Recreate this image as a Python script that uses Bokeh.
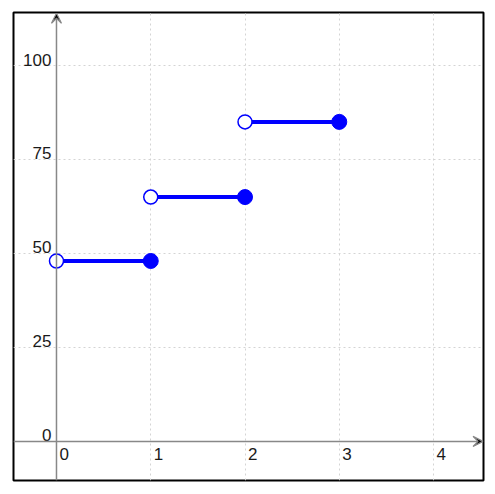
from bokeh.plotting import figure
from bokeh.models import Range1d, FixedTicker, Arrow, VeeHead, ColumnDataSource
from bokeh.core.properties import value
from bokeh.embed import file_html
from bokeh.resources import INLINE

# data
seg_x0 = [0, 1, 2]
seg_x1 = [1, 2, 3]
seg_y = [48, 65, 85]
x_ticks = [0, 1, 2, 3, 4]
x_tick_labels = ["0", "1", "2", "3", "4"]
y_ticks = [0, 25, 50, 75, 100]
y_tick_labels = ["0", "25", "50", "75", "100"]

x_lo, x_hi = -0.456, 4.53
y_lo, y_hi = -10.4, 114.1

p = figure(width=488, height=486, output_backend="svg", toolbar_location=None,
           x_range=Range1d(x_lo, x_hi), y_range=Range1d(y_lo, y_hi),
           min_border_left=13, min_border_right=5, min_border_top=12, min_border_bottom=6)
p.xaxis.visible = False
p.yaxis.visible = False
p.outline_line_color = "black"
p.outline_line_width = 2
p.xgrid.ticker = FixedTicker(ticks=[t for t in x_ticks if t != 0])
p.ygrid.ticker = FixedTicker(ticks=[t for t in y_ticks if t != 0])
for g in (p.xgrid, p.ygrid):
    g.grid_line_color = "#d4d4d4"
    g.grid_line_dash = "2 3"
    g.grid_line_width = 1

# axes with arrows
p.add_layout(Arrow(end=VeeHead(size=10, line_color="#888888", line_width=1.2),
                   x_start=x_lo, y_start=0, x_end=x_hi - 0.005, y_end=0,
                   line_color="#888888", line_width=1.5))
p.add_layout(Arrow(end=VeeHead(size=10, line_color="#888888", line_width=1.2),
                   x_start=0, y_start=y_lo, x_end=0, y_end=y_hi - 0.2,
                   line_color="#888888", line_width=1.5))

# tick labels
p.text(x=x_ticks, y=[0] * len(x_ticks), text=x_tick_labels,
       text_font=value("Liberation Sans"), text_font_size="17px", text_color="#1a1a1a",
       text_align="left", text_baseline="top", x_offset=3, y_offset=7)
p.text(x=[0] * len(y_ticks), y=y_ticks, text=y_tick_labels,
       text_font=value("Liberation Sans"), text_font_size="17px", text_color="#1a1a1a",
       text_align="right", text_baseline="bottom", x_offset=-5, y_offset=0)

# step segments
src = ColumnDataSource(dict(x0=seg_x0, x1=seg_x1, y=seg_y))
p.segment(x0="x0", y0="y", x1="x1", y1="y", source=src, line_color="#0000ff", line_width=4)
p.scatter(x="x1", y="y", source=src, size=15, fill_color="#0000ff", line_color="#0000ff")
p.scatter(x="x0", y="y", source=src, size=14, fill_color="white", line_color="#0000ff", line_width=1.5)

open("out.html", "w").write(file_html(p, INLINE))
